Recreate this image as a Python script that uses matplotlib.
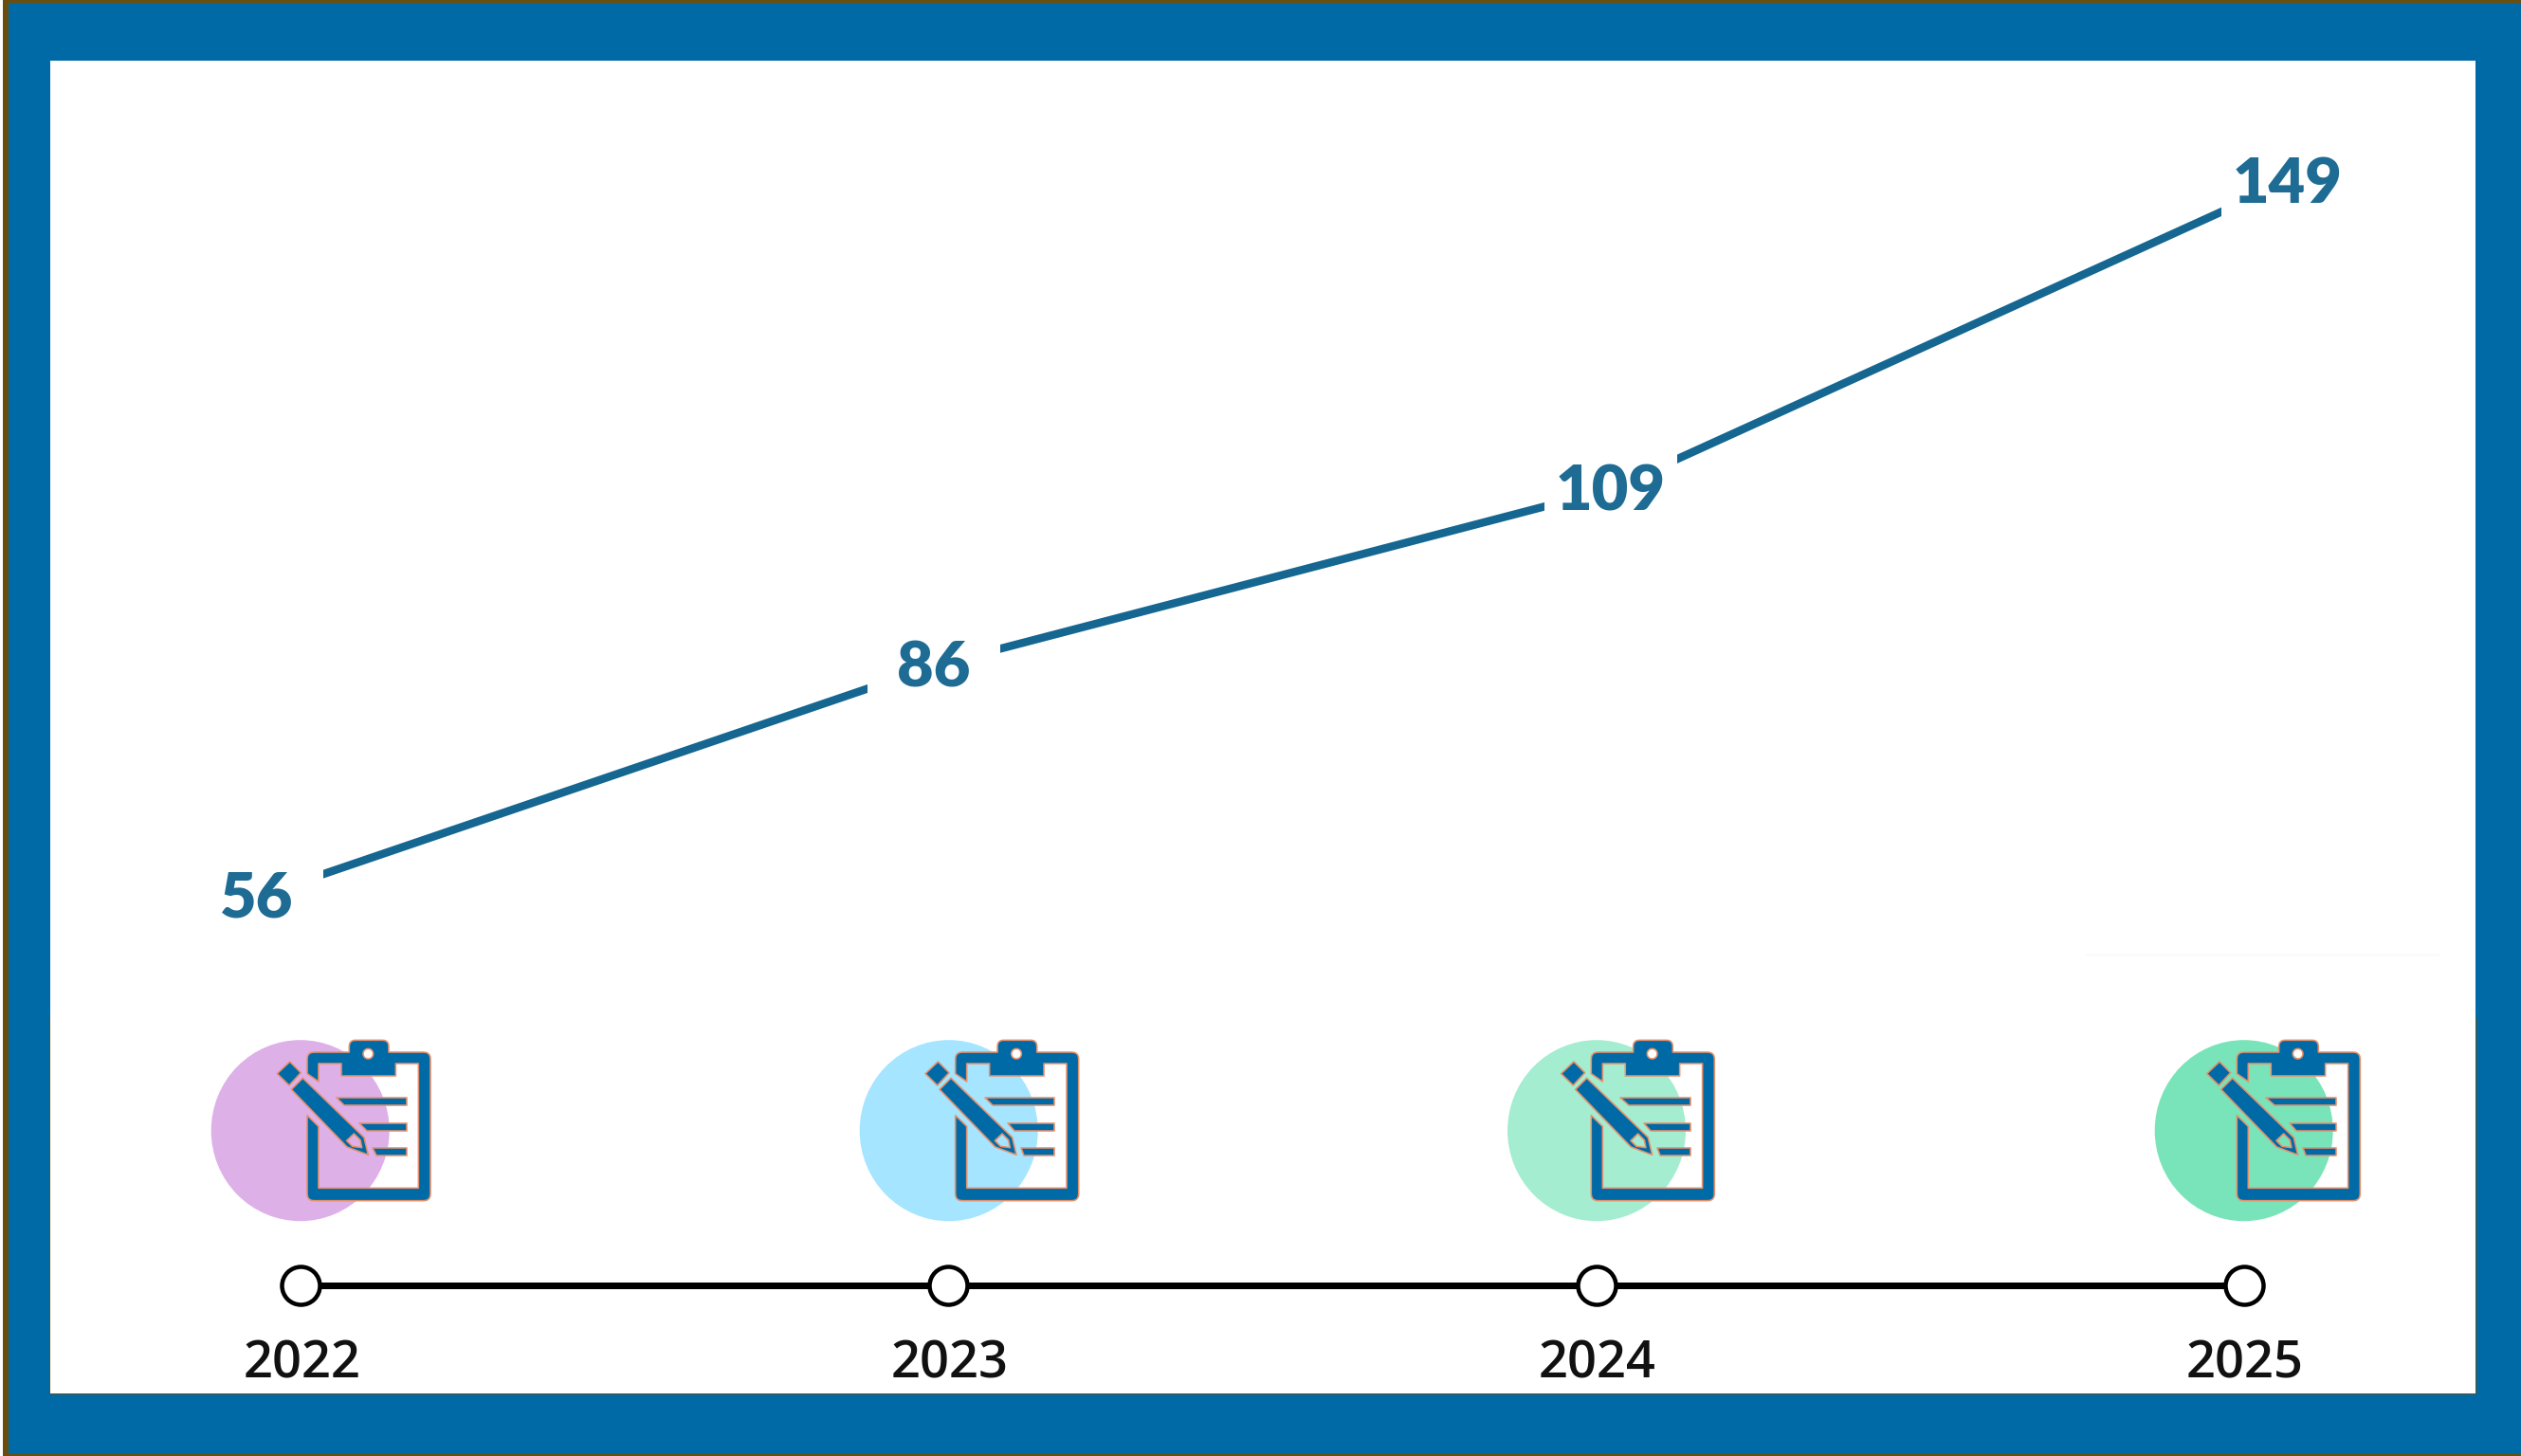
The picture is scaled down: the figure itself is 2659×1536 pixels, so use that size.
#!/usr/bin/env python3
"""
Yearly count line over a timeline strip with clipboard icons
"""

import numpy as np
import matplotlib
matplotlib.use('Agg')
import matplotlib.pyplot as plt
from matplotlib.patches import Ellipse, PathPatch, Rectangle
from matplotlib.path import Path

W, H = 2659, 1536
DPI = 100
PT = 72 / DPI  # points per output pixel

years = [2022, 2023, 2024, 2025]
counts = [56, 86, 109, 149]
circle_colors = ['#DEB0E8', '#A5E5FF', '#A5EDD0', '#79E4B9']
circle_x = [316.7, 1000.7, 1684, 2366.7]
icon_shift = [0, 683.7, 1354.3, 2035.3]

BLUE = '#006AA6'
BROWN = '#6B4E0E'
LINE_COLOR = '#156690'
LABEL_COLOR = '#1E6B94'
ICON_EDGE = '#E8906A'


def px_axes(fig, x0, y0, x1, y1):
    """Axes placed by pixel box, y measured from the top of the figure"""
    ax = fig.add_axes([x0 / W, 1 - y1 / H, (x1 - x0) / W, (y1 - y0) / H])
    ax.patch.set_alpha(0)
    ax.axis('off')
    return ax


def arc(p0, ctrl, p1, n=6):
    """Sampled quadratic corner between two points"""
    t = np.linspace(0, 1, n)[:, None]
    p0, ctrl, p1 = map(np.array, (p0, ctrl, p1))
    return list((1 - t) ** 2 * p0 + 2 * t * (1 - t) * ctrl + t ** 2 * p1)


def ring(points, clockwise):
    """Closed path with a set winding, so nested rings act as holes"""
    pts = np.array(points, dtype=float)
    x, y = pts[:, 0], pts[:, 1]
    area = np.sum(x * np.roll(y, -1) - np.roll(x, -1) * y)
    if (area < 0) != clockwise:
        pts = pts[::-1]
    pts = np.vstack([pts, pts[0]])
    codes = [Path.MOVETO] + [Path.LINETO] * (len(pts) - 2) + [Path.CLOSEPOLY]
    return Path(pts, codes)


def to_icon(path, dx):
    # icon outline is written in units of 1/3 pixel
    return Path(path.vertices / 3 + [200 + dx, 1060], path.codes)


# clipboard outline, notched on the left where the pencil crosses it
board = (
    [(372, 350)] + arc((372, 598), (372, 620), (394, 620))
    + arc((740, 620), (762, 620), (762, 598))
    + arc((762, 172), (762, 150), (740, 150))
    + [(630, 150)] + arc((630, 132), (630, 112), (610, 112))
    + arc((525, 112), (505, 112), (505, 132))
    + [(505, 150)] + arc((394, 150), (372, 150), (372, 172))
    + [(372, 218), (408, 243), (408, 186), (480, 186), (480, 225),
       (652, 225), (652, 186), (724, 186), (724, 580), (408, 580), (408, 385)]
)
clip_hole = [(565 + 16 * np.cos(a), 155 + 16 * np.sin(a))
             for a in np.linspace(0, 2 * np.pi, 24, endpoint=False)]
pencil = [(358, 232), (322, 268), (498, 450), (565, 475), (552, 420)]
pencil_tip = [(497, 430), (520, 408), (540, 428), (545, 452), (515, 448)]
eraser = [(317, 180), (352, 215), (315, 255), (277, 218)]
text_lines = [
    [(465, 295), (686, 295), (686, 318), (490, 318)],
    [(538, 375), (686, 375), (686, 400), (560, 400)],
    [(580, 452), (686, 452), (686, 476), (590, 476)],
]


def draw_icon(ax, dx):
    shapes = [
        Path.make_compound_path(ring(board, True), ring(clip_hole, False)),
        Path.make_compound_path(ring(pencil, True), ring(pencil_tip, False)),
        ring(eraser, True),
    ] + [ring(item, True) for item in text_lines]
    for shape in shapes:
        ax.add_patch(PathPatch(to_icon(shape, dx), facecolor=BLUE, edgecolor=ICON_EDGE,
                               linewidth=1.6 * PT, joinstyle='round', zorder=4))


fig = plt.figure(figsize=(W / DPI, H / DPI), dpi=DPI, facecolor='white')

# frame and white panel, in pixel coordinates
bg = px_axes(fig, 0, 0, W, H)
bg.set_xlim(0, W)
bg.set_ylim(H, 0)
bg.add_patch(Rectangle((3, 0), W - 3, H, facecolor=BROWN, edgecolor='none'))
bg.add_patch(Rectangle((9, 3), W - 9, 1531, facecolor=BLUE, edgecolor='none'))
bg.add_patch(Rectangle((52.4, 1074), 2559.2, 397, facecolor=BROWN, edgecolor='none'))
bg.add_patch(Rectangle((53, 64), 2558, 1405.5, facecolor='white', edgecolor='none'))
bg.add_patch(Rectangle((2200, 1006), 373, 3, facecolor='#FBFBFB', edgecolor='none'))

# circles and clipboards above the timeline
for color, cx, dx in zip(circle_colors, circle_x, icon_shift):
    bg.add_patch(Ellipse((cx, 1192.7), 188, 191, facecolor=color, edgecolor='none', zorder=2))
    draw_icon(bg, dx)

# main line, white squares open the gaps behind the value labels
ax = px_axes(fig, 271, 191.6, 2413, 946)
ax.set_xlim(years[0], years[-1])
ax.set_ylim(counts[0], counts[-1])
ax.plot(years, counts, color=LINE_COLOR, linewidth=8.5 * PT, clip_on=False, zorder=2,
        solid_capstyle='butt')
ax.plot(years, counts, linestyle='none', marker='s', markersize=140 * PT,
        markerfacecolor='white', markeredgewidth=0, clip_on=False, zorder=3)
for year, count in zip(years, counts):
    ax.annotate(str(count), (year, count), xytext=(0, 3 * PT), textcoords='offset points',
                color=LABEL_COLOR, fontsize=48, fontweight='heavy', family='Lato',
                ha='center', va='center_baseline', zorder=4, annotation_clip=False)

# timeline strip
tl = px_axes(fig, 317.3, 1341, 2366.7, 1371)
tl.set_xlim(years[0], years[-1])
tl.set_ylim(0, 1)
tl.plot(years, [0.5] * len(years), color='black', linewidth=7 * PT, clip_on=False,
        marker='o', markersize=40 * PT, markerfacecolor='white', markeredgecolor='black',
        markeredgewidth=4.5 * PT)
for year in years:
    tl.annotate(str(year), (year, 0.5), xytext=(1 * PT, -77 * PT), textcoords='offset points',
                color='#111111', fontsize=39, fontweight=600, family='Open Sans',
                ha='center', va='center_baseline', annotation_clip=False)

fig.savefig('out.png', dpi=DPI)
